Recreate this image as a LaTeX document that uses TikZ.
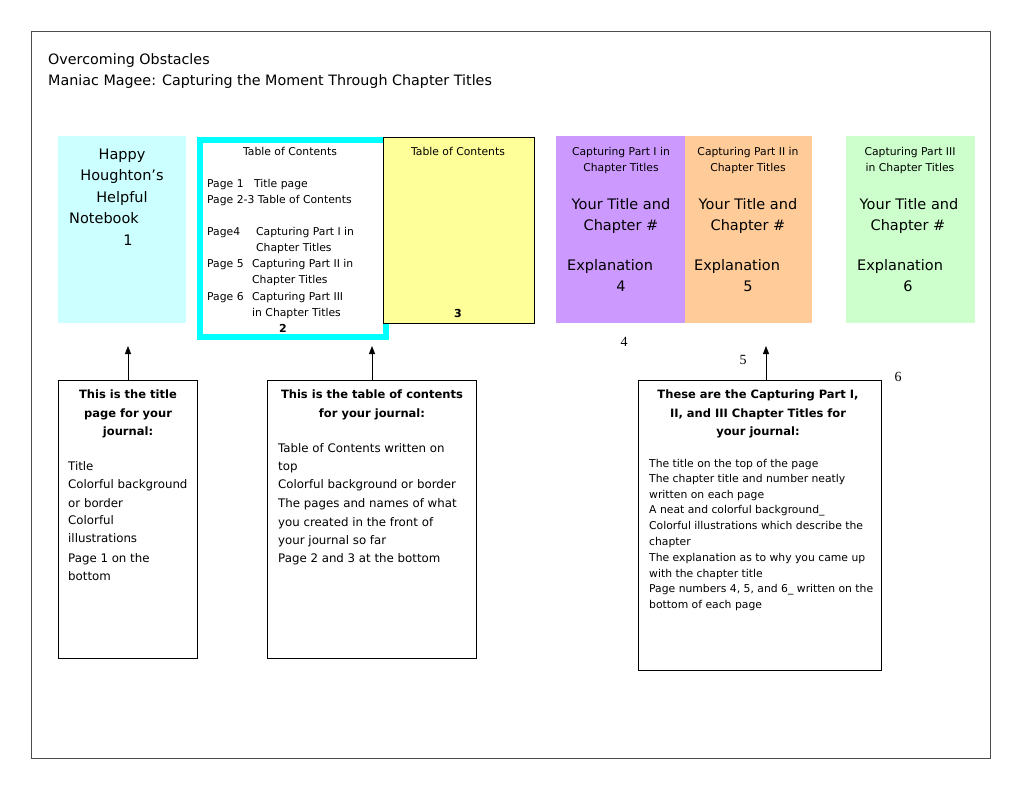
\documentclass[tikz,border=0pt]{standalone}
\usepackage{fontspec}
\setmainfont{DejaVu Sans}
\newfontfamily\numfont{Liberation Serif}
\usetikzlibrary{arrows.meta}
\definecolor{pgcyan}{HTML}{CCFFFF}
\definecolor{brcyan}{HTML}{00FFFF}
\definecolor{pgyellow}{HTML}{FFFF99}
\definecolor{pgpurple}{HTML}{CC99FF}
\definecolor{pgorange}{HTML}{FFCC99}
\definecolor{pggreen}{HTML}{CCFFCC}
\begin{document}
\begin{tikzpicture}[x=1pt,y=-1pt,
  lt/.style={inner sep=0pt, anchor=base west},
  ct/.style={inner sep=0pt, anchor=base},
  ttl/.style={font=\fontsize{14.3}{17}\selectfont},
  big/.style={font=\fontsize{14.5}{17}\selectfont},
  sml/.style={font=\fontsize{10.8}{13}\selectfont},
  hdr/.style={font=\bfseries\fontsize{11.5}{14}\selectfont},
  bodyab/.style={font=\fontsize{11.8}{14}\selectfont},
  bodyc/.style={font=\fontsize{10.8}{13}\selectfont},
  pnum/.style={font=\bfseries\fontsize{11}{13}\selectfont},
  serifnum/.style={inner sep=0pt, anchor=base, font=\numfont\fontsize{14}{16}\selectfont},
  page/.style={inner sep=0pt, anchor=north west, draw=none},
  infobox/.style={inner sep=0pt, anchor=north west, draw=black, line width=1pt, fill=white},
  uparrow/.style={-{Triangle[length=8pt,width=6pt]}, line width=1pt}
]
\useasboundingbox (0,0) rectangle (1020,788);
\fill[white] (0,0) rectangle (1020,788);
% outer frame
\node[inner sep=0pt, anchor=north west, draw=black!70, line width=1pt, minimum width=959pt, minimum height=727pt] (frame) at (31,31) {};

% titles
\node[lt,ttl] (t1) at (48,64) {Overcoming Obstacles};
\node[lt,ttl] (t2) at (48,85) {Maniac Magee: Capturing the Moment Through Chapter Titles};

% page 1
\node[page, fill=pgcyan, minimum width=128pt, minimum height=187pt] (p1) at (58,136) {};
\node[ct,big] (p1a) at (122,159) {Happy};
\node[ct,big] (p1b) at (122,180) {Houghton’s};
\node[ct,big] (p1c) at (122,202) {Helpful};
\node[lt,big] (p1d) at (69,223) {Notebook};
\node[ct,big] (p1e) at (128,245) {1};

% page 2
\node[page, draw=brcyan, line width=5.5pt, fill=white, minimum width=186pt, minimum height=197pt] (p2) at (197,137) {};
\node[ct,sml] (p2h) at (290,155) {Table of Contents};
\node[lt,sml] (p2a) at (207,187) {Page 1};
\node[lt,sml] (p2b) at (254,187) {Title page};
\node[lt,sml] (p2c) at (207,203) {Page 2-3 Table of Contents};
\node[lt,sml] (p2d) at (207,235) {Page4};
\node[lt,sml] (p2e) at (256,235) {Capturing Part I in};
\node[lt,sml] (p2f) at (256,251) {Chapter Titles};
\node[lt,sml] (p2g) at (207,267) {Page 5};
\node[lt,sml] (p2i) at (252,267) {Capturing Part II in};
\node[lt,sml] (p2j) at (252,283) {Chapter Titles};
\node[lt,sml] (p2k) at (207,300) {Page 6};
\node[lt,sml] (p2l) at (252,300) {Capturing Part III};
\node[lt,sml] (p2m) at (252,316) {in Chapter Titles};
\node[ct,pnum] (p2n) at (283,332) {2};

% page 3
\node[page, draw=black, line width=1pt, fill=pgyellow, minimum width=151pt, minimum height=186pt] (p3) at (383,137) {};
\node[ct,sml] (p3h) at (458,155) {Table of Contents};
\node[ct,pnum] (p3n) at (458,317) {3};

% page 4
\node[page, fill=pgpurple, minimum width=129pt, minimum height=187pt] (p4) at (556,136) {};
\node[ct,sml] (p4a) at (621,155) {Capturing Part I in};
\node[ct,sml] (p4b) at (621,171) {Chapter Titles};
\node[ct,big] (p4c) at (621,209) {Your Title and};
\node[ct,big] (p4d) at (621,230) {Chapter \#};
\node[lt,big] (p4e) at (567,270) {Explanation};
\node[ct,big] (p4f) at (621,291) {4};

% page 5
\node[page, fill=pgorange, minimum width=127pt, minimum height=187pt] (p5) at (685,136) {};
\node[ct,sml] (p5a) at (748,155) {Capturing Part II in};
\node[ct,sml] (p5b) at (748,171) {Chapter Titles};
\node[ct,big] (p5c) at (748,209) {Your Title and};
\node[ct,big] (p5d) at (748,230) {Chapter \#};
\node[lt,big] (p5e) at (694,270) {Explanation};
\node[ct,big] (p5f) at (748,291) {5};

% page 6
\node[page, fill=pggreen, minimum width=129pt, minimum height=187pt] (p6) at (846,136) {};
\node[ct,sml] (p6a) at (910,155) {Capturing Part III};
\node[ct,sml] (p6b) at (910,171) {in Chapter Titles};
\node[ct,big] (p6c) at (909,209) {Your Title and};
\node[ct,big] (p6d) at (908,230) {Chapter \#};
\node[lt,big] (p6e) at (857,270) {Explanation};
\node[ct,big] (p6f) at (908,291) {6};

% loose numbers
\node[serifnum] (n4) at (624,346) {4};
\node[serifnum] (n5) at (743,364) {5};
\node[serifnum] (n6) at (898,381) {6};

% info box A
\node[infobox, minimum width=139pt, minimum height=278pt] (ba) at (58,380) {};
\node[ct,hdr] (ba1) at (128,398) {This is the title};
\node[ct,hdr] (ba2) at (128,417) {page for your};
\node[ct,hdr] (ba3) at (128,435) {journal:};
\node[lt,bodyab] (ba4) at (68,470) {Title};
\node[lt,bodyab] (ba5) at (68,488) {Colorful background};
\node[lt,bodyab] (ba6) at (68,507) {or border};
\node[lt,bodyab] (ba7) at (68,524) {Colorful};
\node[lt,bodyab] (ba8) at (68,542) {illustrations};
\node[lt,bodyab] (ba9) at (68,562) {Page 1 on the};
\node[lt,bodyab] (ba10) at (68,580) {bottom};

% info box B
\node[infobox, minimum width=209pt, minimum height=278pt] (bb) at (267,380) {};
\node[ct,hdr] (bb1) at (372,398) {This is the table of contents};
\node[ct,hdr] (bb2) at (372,417) {for your journal:};
\node[lt,bodyab] (bb3) at (278,452) {Table of Contents written on};
\node[lt,bodyab] (bb4) at (278,470) {top};
\node[lt,bodyab] (bb5) at (278,488) {Colorful background or border};
\node[lt,bodyab] (bb6) at (278,507) {The pages and names of what};
\node[lt,bodyab] (bb7) at (278,526) {you created in the front of};
\node[lt,bodyab] (bb8) at (278,544) {your journal so far};
\node[lt,bodyab] (bb9) at (278,562) {Page 2 and 3 at the bottom};

% info box C
\node[infobox, minimum width=243pt, minimum height=290pt] (bc) at (638,380) {};
\node[ct,hdr] (bc1) at (758,398) {These are the Capturing Part I,};
\node[ct,hdr] (bc2) at (758,417) {II, and III Chapter Titles for};
\node[ct,hdr] (bc3) at (758,435) {your journal:};
\node[lt,bodyc] (bc4) at (649,467) {The title on the top of the page};
\node[lt,bodyc] (bc5) at (649,482) {The chapter title and number neatly};
\node[lt,bodyc] (bc6) at (649,498) {written on each page};
\node[lt,bodyc] (bc7) at (649,513) {A neat and colorful background\_};
\node[lt,bodyc] (bc8) at (649,529) {Colorful illustrations which describe the};
\node[lt,bodyc] (bc9) at (649,545) {chapter};
\node[lt,bodyc] (bc10) at (649,561) {The explanation as to why you came up};
\node[lt,bodyc] (bc11) at (649,577) {with the chapter title};
\node[lt,bodyc] (bc12) at (649,592) {Page numbers 4, 5, and 6\_ written on the};
\node[lt,bodyc] (bc13) at (649,608) {bottom of each page};

% arrows
\coordinate (ta) at (128,346);
\coordinate (tb) at (372,346);
\coordinate (tc) at (766,346);
\draw[uparrow] (ba.north -| ta) -- (ta);
\draw[uparrow] (bb.north -| tb) -- (tb);
\draw[uparrow] (bc.north -| tc) -- (tc);
\end{tikzpicture}
\end{document}
